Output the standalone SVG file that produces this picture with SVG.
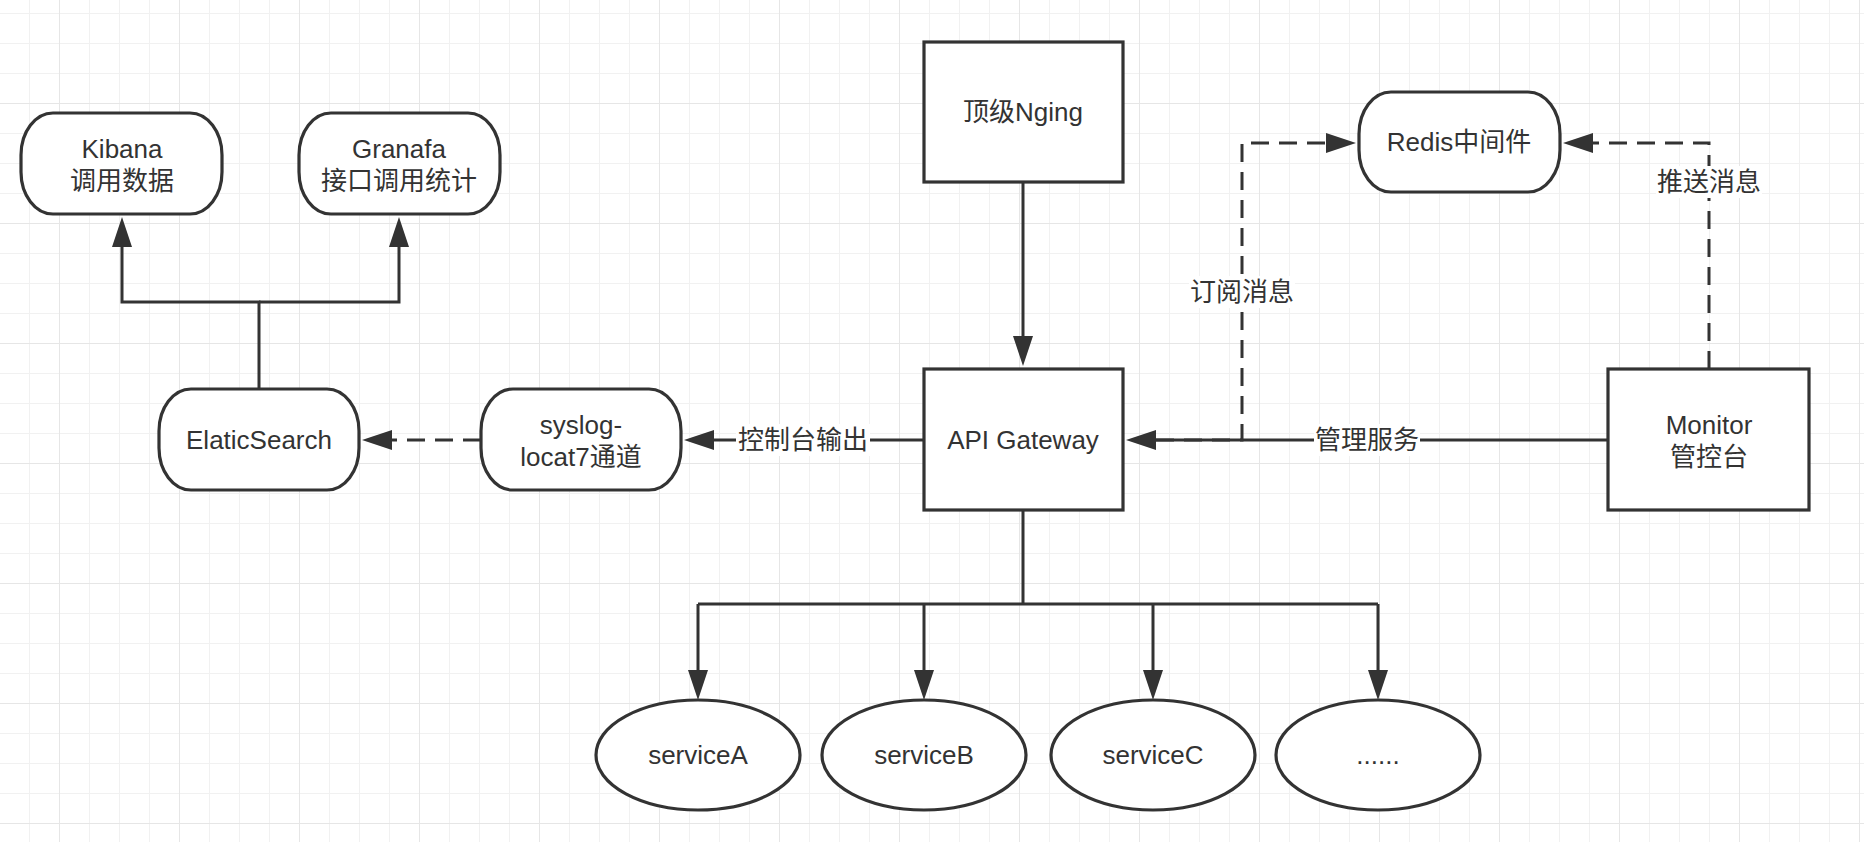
<svg xmlns="http://www.w3.org/2000/svg" width="1864" height="842" viewBox="0 0 1864 842">
<defs>
<pattern id="minor" x="-1" y="13" width="30" height="30" patternUnits="userSpaceOnUse">
<path d="M0,0 H30 M0,0 V30" fill="none" stroke="#f1f1f1" stroke-width="2"/>
</pattern>
<pattern id="major" x="59" y="103" width="120" height="120" patternUnits="userSpaceOnUse">
<path d="M0,0 H120 M0,0 V120" fill="none" stroke="#e6e6e6" stroke-width="2"/>
</pattern>
<marker id="arr" markerUnits="userSpaceOnUse" markerWidth="32" markerHeight="22" refX="0" refY="11" orient="auto">
<path d="M0,1 L30,11 L0,21 Z" fill="#333"/>
</marker>
</defs>
<style>
.box{fill:#fff;stroke:#333;stroke-width:3.2}
.t{font-family:"Liberation Sans","Noto Sans CJK SC",sans-serif;font-size:26px;fill:#333;text-anchor:middle}
.ln{fill:none;stroke:#333;stroke-width:3}
.dash{fill:none;stroke:#333;stroke-width:3;stroke-dasharray:18 10}
.lbg{fill:#fff}
</style>
<rect width="1864" height="842" fill="#fff"/>
<rect width="1864" height="842" fill="url(#minor)"/>
<rect width="1864" height="842" fill="url(#major)"/>

<g id="connectors">
<path class="ln" d="M259,389 V302 H122 V247" marker-end="url(#arr)"/>
<path class="ln" d="M259,302 H399 V247" marker-end="url(#arr)"/>
<path class="dash" d="M481,440 H392" marker-end="url(#arr)"/>
<path class="ln" d="M924,440 H714" marker-end="url(#arr)"/>
<path class="ln" d="M1023,182 V336" marker-end="url(#arr)"/>
<path class="ln" d="M1608,440 H1156" marker-end="url(#arr)"/>
<path class="dash" d="M1156,440 H1242 V143 H1326" marker-end="url(#arr)"/>
<path class="dash" d="M1709,369 V143 H1593" marker-end="url(#arr)"/>
<path class="ln" d="M1023,510 V604 M698,604 H1378"/>
<path class="ln" d="M698,604 V670" marker-end="url(#arr)"/>
<path class="ln" d="M924,604 V670" marker-end="url(#arr)"/>
<path class="ln" d="M1153,604 V670" marker-end="url(#arr)"/>
<path class="ln" d="M1378,604 V670" marker-end="url(#arr)"/>
<rect class="lbg" x="736" y="424" width="134" height="32"/>
<text class="t" x="803" y="449">控制台输出</text>
<rect class="lbg" x="1314" y="424" width="106" height="32"/>
<text class="t" x="1367" y="449">管理服务</text>
<rect class="lbg" x="1189" y="276" width="106" height="32"/>
<text class="t" x="1242" y="301">订阅消息</text>
<rect class="lbg" x="1656" y="166" width="106" height="32"/>
<text class="t" x="1709" y="191">推送消息</text>
</g>

<g id="kibana">
<rect class="box" x="21" y="113" width="201" height="101" rx="32" ry="42"/>
<text class="t" x="122" y="158">Kibana</text>
<text class="t" x="122" y="190">调用数据</text>
</g>
<g id="granafa">
<rect class="box" x="299" y="113" width="201" height="101" rx="32" ry="42"/>
<text class="t" x="399" y="158">Granafa</text>
<text class="t" x="399" y="190">接口调用统计</text>
</g>
<g id="elasticsearch">
<rect class="box" x="159" y="389" width="200" height="101" rx="32" ry="42"/>
<text class="t" x="259" y="449">ElaticSearch</text>
</g>
<g id="syslog">
<rect class="box" x="481" y="389" width="200" height="101" rx="32" ry="42"/>
<text class="t" x="581" y="434">syslog-</text>
<text class="t" x="581" y="466">locat7通道</text>
</g>
<g id="nginx">
<rect class="box" x="924" y="42" width="199" height="140"/>
<text class="t" x="1023" y="121">顶级Nging</text>
</g>
<g id="gateway">
<rect class="box" x="924" y="369" width="199" height="141"/>
<text class="t" x="1023" y="449">API Gateway</text>
</g>
<g id="redis">
<rect class="box" x="1359" y="92" width="201" height="100" rx="32" ry="42"/>
<text class="t" x="1459" y="151">Redis中间件</text>
</g>
<g id="monitor">
<rect class="box" x="1608" y="369" width="201" height="141"/>
<text class="t" x="1709" y="434">Monitor</text>
<text class="t" x="1709" y="466">管控台</text>
</g>
<g id="serviceA">
<ellipse class="box" cx="698" cy="755" rx="102" ry="55"/>
<text class="t" x="698" y="764">serviceA</text>
</g>
<g id="serviceB">
<ellipse class="box" cx="924" cy="755" rx="102" ry="55"/>
<text class="t" x="924" y="764">serviceB</text>
</g>
<g id="serviceC">
<ellipse class="box" cx="1153" cy="755" rx="102" ry="55"/>
<text class="t" x="1153" y="764">serviceC</text>
</g>
<g id="serviceMore">
<ellipse class="box" cx="1378" cy="755" rx="102" ry="55"/>
<text class="t" x="1378" y="764">......</text>
</g>
</svg>
